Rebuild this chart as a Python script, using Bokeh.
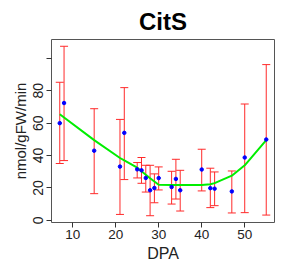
from bokeh.plotting import figure
from bokeh.models import ColumnDataSource, Whisker, TeeHead, FixedTicker, Range1d
from bokeh.embed import file_html
from bokeh.resources import INLINE

# Data
dpa   = [7, 8, 15, 21, 22, 25, 26, 27, 28, 29, 30, 33, 34, 35, 40, 42, 43, 47, 50, 55]
mean  = [60, 72.4, 43, 33.2, 54, 31.5, 30.9, 26.2, 18.6, 20.0, 26.1, 20.6, 25.6, 18.6, 31.4, 19.9, 19.6, 17.9, 38.8, 49.9]
lower = [35.1, 36.9, 16.5, 3.7, 25.2, 26.2, 22.9, 17.5, 2.9, 10.9, 18.8, 10.1, 13.2, 5.8, 18.2, 7.9, 9.1, 4.6, 4.8, 3.3]
upper = [85.2, 107.4, 68.9, 62.3, 81.9, 35.7, 38.8, 34.0, 34.0, 28.7, 33.0, 30.3, 37.7, 30.9, 43.9, 32.2, 29.9, 30.5, 71.8, 96.1]
fit   = [65.5, 63.5, 49.5, 38.5, 37.0, 32.5, 30.3, 28.2, 26.0, 24.0, 22.0, 21.8, 21.8, 21.8, 21.8, 22.3, 23.0, 27.6, 34.0, 49.5]

x_ticks = [10, 20, 30, 40, 50]
y_ticks = [0, 20, 40, 60, 80, 100]

# R-style 4% axis extension
xmin, xmax = min(dpa), max(dpa)
ymin, ymax = min(lower), max(upper)
xpad = (xmax - xmin) * 0.04
ypad = (ymax - ymin) * 0.04

p = figure(width=275, height=253, output_backend="svg", toolbar_location=None,
           x_range=Range1d(xmin - xpad, xmax + xpad),
           y_range=Range1d(ymin - ypad, ymax + ypad),
           min_border_left=51, min_border_right=1, min_border_top=31, min_border_bottom=39,
           title="CitS")
p.frame_width = 223
p.frame_height = 183

p.title.align = "center"
p.title.text_font = "Liberation Sans"
p.title.text_font_size = "24px"
p.title.text_font_style = "bold"
p.title.text_color = "black"

p.xgrid.visible = False
p.ygrid.visible = False
p.outline_line_color = "#555555"
p.outline_line_width = 1
p.background_fill_color = "white"
p.border_fill_color = "white"

src = ColumnDataSource(dict(x=dpa, y=mean, lower=lower, upper=upper, fit=fit))

red = "#FF2A2A"
w = Whisker(base="x", lower="lower", upper="upper", source=src, dimension="height",
            line_color=red, line_width=1,
            upper_head=TeeHead(size=8, line_color=red, line_width=1),
            lower_head=TeeHead(size=8, line_color=red, line_width=1))
p.add_layout(w)

p.line("x", "fit", source=src, line_color="#00EE00", line_width=2)
p.scatter("x", "y", source=src, marker="circle", size=3.5, fill_color="blue", line_color="blue")

for ax in (p.xaxis[0], p.yaxis[0]):
    ax.axis_line_color = None
    ax.major_tick_line_color = "#333333"
    ax.major_tick_out = 5
    ax.major_tick_in = 0
    ax.minor_tick_line_color = None
    ax.major_label_text_font = "Liberation Sans"
    ax.major_label_text_color = "#222222"
    ax.axis_label_text_font = "Liberation Sans"
    ax.axis_label_text_font_style = "normal"
    ax.axis_label_text_color = "#222222"

p.xaxis.ticker = FixedTicker(ticks=x_ticks)
p.yaxis.ticker = FixedTicker(ticks=y_ticks)
p.yaxis.major_label_overrides = {100: ""}
p.yaxis.major_label_orientation = "vertical"

p.xaxis.axis_label = "DPA"
p.yaxis.axis_label = "nmol/gFW/min"
p.xaxis.major_label_text_font_size = "13.5px"
p.yaxis.major_label_text_font_size = "14px"
p.xaxis.axis_label_text_font_size = "16px"
p.yaxis.axis_label_text_font_size = "15px"
p.xaxis.major_label_standoff = 2
p.yaxis.major_label_standoff = 3
p.xaxis.axis_label_standoff = 3
p.yaxis.axis_label_standoff = 2

open("out.html", "w").write(file_html(p, INLINE))
